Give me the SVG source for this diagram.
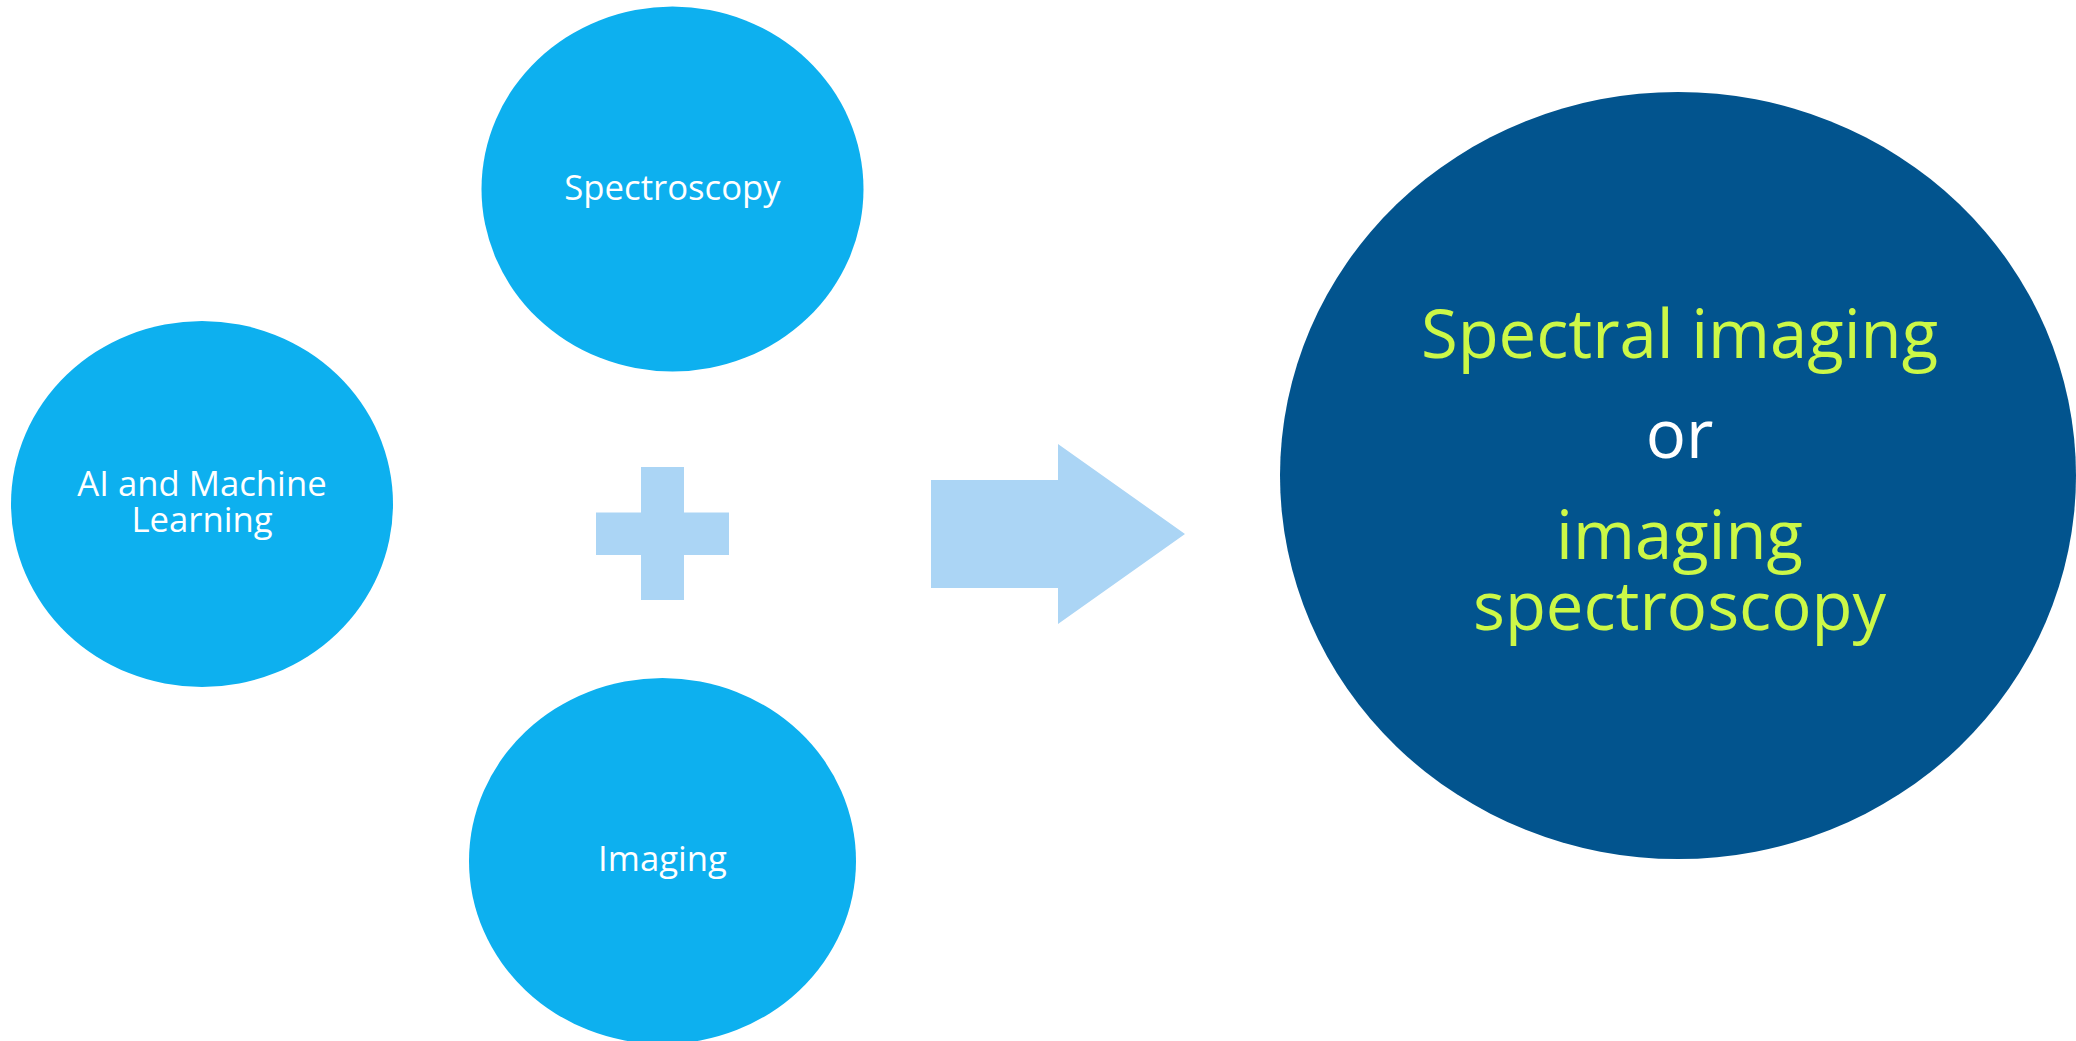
<svg xmlns="http://www.w3.org/2000/svg" width="2076" height="1041" viewBox="0 0 2076 1041">
  <style>
    .bubble { fill: #0DB0EF; }
    .result { fill: #02548E; }
    .sym { fill: #ABD5F5; }
    .lbl { font-family: "Open Sans", "DejaVu Sans", sans-serif; font-size: 34.7px; fill: #FFFFFF; text-anchor: middle; }
    .big { font-family: "Open Sans", "DejaVu Sans", sans-serif; font-size: 67px; text-anchor: middle; }
    .lime { fill: #CCF847; }
    .white { fill: #FFFFFF; }
  </style>
  <rect x="0" y="0" width="2076" height="1041" fill="#FFFFFF"/>

  <g id="node-ai">
    <ellipse class="bubble" cx="202" cy="504" rx="191" ry="183"/>
    <text class="lbl" x="202" y="496">AI and Machine</text>
    <text class="lbl" x="202" y="532">Learning</text>
  </g>

  <g id="node-spectroscopy">
    <ellipse class="bubble" cx="672.5" cy="189" rx="191" ry="182.5"/>
    <text class="lbl" x="672.5" y="200">Spectroscopy</text>
  </g>

  <g id="node-imaging">
    <ellipse class="bubble" cx="662.5" cy="861" rx="193.5" ry="183"/>
    <text class="lbl" x="662.5" y="870.5">Imaging</text>
  </g>

  <g id="connectors">
    <path class="sym" d="M641,467 H684 V512.5 H729 V555 H684 V600 H641 V555 H596 V512.5 H641 Z"/>
    <path class="sym" d="M931,480 H1058 V444 L1185,534 L1058,624 V588 H931 Z"/>
  </g>

  <g id="node-result">
    <ellipse class="result" cx="1678" cy="475.5" rx="398" ry="383.5"/>
    <text class="big lime" x="1679.5" y="358">Spectral imaging</text>
    <text class="big white" x="1679.5" y="458">or</text>
    <text class="big lime" x="1679.5" y="559">imaging</text>
    <text class="big lime" x="1679.5" y="630">spectroscopy</text>
  </g>
</svg>
